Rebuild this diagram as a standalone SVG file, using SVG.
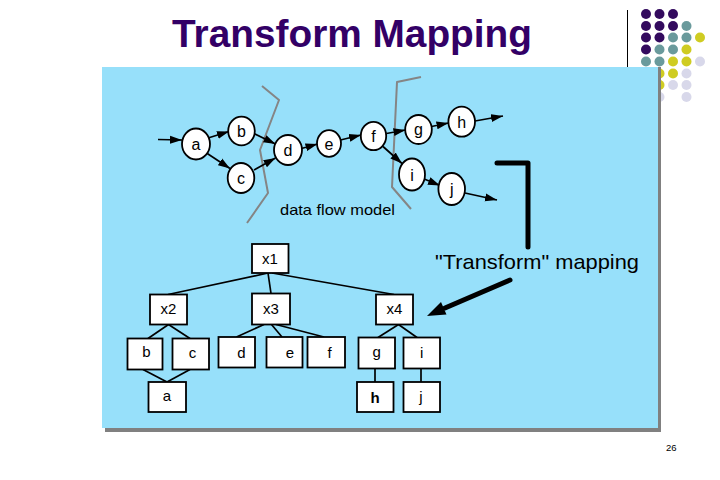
<svg xmlns="http://www.w3.org/2000/svg" width="720" height="480" viewBox="0 0 720 480">
<style>
.t{font-family:"Liberation Sans",Arial,sans-serif;fill:#000}
.nd{fill:#fff;stroke:#000;stroke-width:1.8}
.ln{stroke:#000;stroke-width:1.7;fill:none}
.ar{stroke:#000;stroke-width:1.7;fill:none;marker-end:url(#ah)}
.cut{stroke:#858585;stroke-width:2;fill:none;stroke-linejoin:round}
.dP{fill:#330a5e}.dT{fill:#6a9a9c}.dY{fill:#cfcc22}.dL{fill:#d8d8ea}
</style>
<defs>
<marker id="ah" markerUnits="userSpaceOnUse" markerWidth="13" markerHeight="9" refX="12" refY="4.5" orient="auto">
<path d="M0,0.5 L12,4.5 L0,8.5 z" fill="#000"/>
</marker>
</defs>
<rect width="720" height="480" fill="#fff"/>
<g id="dots">
<circle class="dP" cx="646" cy="14" r="5"/><circle class="dP" cx="659.5" cy="14" r="5"/><circle class="dP" cx="673" cy="14" r="5"/>
<circle class="dP" cx="646" cy="26" r="5"/><circle class="dP" cx="659.5" cy="26" r="5"/><circle class="dP" cx="673" cy="26" r="5"/><circle class="dT" cx="686.5" cy="26" r="5"/>
<circle class="dP" cx="646" cy="37.5" r="5"/><circle class="dP" cx="659.5" cy="37.5" r="5"/><circle class="dT" cx="673" cy="37.5" r="5"/><circle class="dT" cx="686.5" cy="37.5" r="5"/><circle class="dY" cx="700" cy="37.5" r="5"/>
<circle class="dP" cx="646" cy="49.5" r="5"/><circle class="dT" cx="659.5" cy="49.5" r="5"/><circle class="dT" cx="673" cy="49.5" r="5"/><circle class="dY" cx="686.5" cy="49.5" r="5"/>
<circle class="dT" cx="646" cy="61.5" r="5"/><circle class="dT" cx="659.5" cy="61.5" r="5"/><circle class="dY" cx="673" cy="61.5" r="5"/><circle class="dY" cx="686.5" cy="61.5" r="5"/><circle class="dL" cx="700" cy="61.5" r="5"/>
<circle class="dY" cx="659.5" cy="73.5" r="5"/><circle class="dY" cx="673" cy="73.5" r="5"/><circle class="dL" cx="686.5" cy="73.5" r="5"/>
<circle class="dY" cx="659.5" cy="85" r="5"/><circle class="dL" cx="673" cy="85" r="5"/><circle class="dL" cx="686.5" cy="85" r="5"/>
<circle class="dL" cx="659.5" cy="97" r="5"/><circle class="dL" cx="686.5" cy="97" r="5"/>
</g>
<line x1="627.5" y1="10" x2="627.5" y2="67" stroke="#000" stroke-width="1"/>
<text class="t" x="172" y="47" font-size="38.5" font-weight="bold" textLength="360" lengthAdjust="spacingAndGlyphs" style="fill:#330066">Transform Mapping</text>
<g id="panel">
<rect x="105" y="67" width="556" height="365" fill="#808080"/>
<rect x="102" y="67" width="556" height="361" fill="#97e0fa"/>
</g>
<g id="cuts">
<polyline class="cut" points="262,86 279,100 260,150 268,193 247,223"/>
<polyline class="cut" points="421,77 397,82 392,187 411,209"/>
</g>
<g id="connectors">
<line class="ar" x1="158" y1="139.5" x2="182" y2="140"/>
<line class="ar" x1="208" y1="138" x2="229" y2="131.5"/>
<line class="ar" x1="206.5" y1="153" x2="230" y2="168.5"/>
<line class="ar" x1="254" y1="133.5" x2="275.5" y2="144"/>
<line class="ar" x1="254" y1="170" x2="275.5" y2="158"/>
<line class="ar" x1="301.5" y1="148.5" x2="317.5" y2="144"/>
<line class="ar" x1="340.5" y1="140" x2="361" y2="135"/>
<line class="ar" x1="386.5" y1="133.5" x2="405.5" y2="130"/>
<line class="ar" x1="383" y1="146.5" x2="402" y2="163.5"/>
<line class="ar" x1="431.5" y1="126.5" x2="448.5" y2="123"/>
<line class="ar" x1="423" y1="178.5" x2="440" y2="185.5"/>
<line class="ar" x1="475" y1="121" x2="503" y2="116"/>
<line class="ar" x1="465" y1="193" x2="497" y2="200"/>
<line class="ln" x1="268" y1="273" x2="168" y2="294.5"/>
<line class="ln" x1="268" y1="273" x2="271" y2="293.5"/>
<line class="ln" x1="272" y1="273" x2="394" y2="294.5"/>
<line class="ln" x1="168.5" y1="324.5" x2="148" y2="338.5"/>
<line class="ln" x1="168.5" y1="324.5" x2="190" y2="338.5"/>
<line class="ln" x1="264" y1="324.5" x2="236.5" y2="337"/>
<line class="ln" x1="271.5" y1="324.5" x2="282" y2="337"/>
<line class="ln" x1="276" y1="324.5" x2="324" y2="337"/>
<line class="ln" x1="398.5" y1="324.5" x2="378" y2="337.5"/>
<line class="ln" x1="398.5" y1="324.5" x2="417" y2="337.5"/>
<line class="ln" x1="143" y1="369.5" x2="167" y2="382"/>
<line class="ln" x1="190" y1="369.5" x2="167" y2="382"/>
<line class="ln" x1="375" y1="368.5" x2="375" y2="382"/>
<line class="ln" x1="421" y1="368.5" x2="421" y2="382"/>
<polyline points="497,163 528,163 528,247" fill="none" stroke="#000" stroke-width="5" stroke-linecap="round" stroke-linejoin="round"/>
<line x1="510" y1="280" x2="445" y2="308" stroke="#000" stroke-width="5" stroke-linecap="round"/>
<polygon points="427,316 446.5,314.5 441,302" fill="#000"/>
</g>
<g id="n-a"><ellipse class="nd" cx="196" cy="144" rx="14" ry="15.5"/><text class="t" x="196" y="150" font-size="16" text-anchor="middle">a</text></g>
<g id="n-b"><ellipse class="nd" cx="241.5" cy="131" rx="13.3" ry="14.3"/><text class="t" x="241.5" y="137" font-size="16" text-anchor="middle">b</text></g>
<g id="n-c"><ellipse class="nd" cx="241" cy="178" rx="13.3" ry="15"/><text class="t" x="241" y="184" font-size="16" text-anchor="middle">c</text></g>
<g id="n-d"><ellipse class="nd" cx="288" cy="150" rx="14" ry="15"/><text class="t" x="288" y="156" font-size="16" text-anchor="middle">d</text></g>
<g id="n-e"><ellipse class="nd" cx="329" cy="143.5" rx="12" ry="13.3"/><text class="t" x="329" y="149.5" font-size="16" text-anchor="middle">e</text></g>
<g id="n-f"><ellipse class="nd" cx="373.5" cy="136" rx="12.7" ry="14.2"/><text class="t" x="373.5" y="142" font-size="16" text-anchor="middle">f</text></g>
<g id="n-g"><ellipse class="nd" cx="418.5" cy="129.5" rx="13.3" ry="14.5"/><text class="t" x="418.5" y="135" font-size="16" text-anchor="middle">g</text></g>
<g id="n-h"><ellipse class="nd" cx="461.7" cy="121.7" rx="13.3" ry="15"/><text class="t" x="461.7" y="127.5" font-size="16" text-anchor="middle">h</text></g>
<g id="n-i"><ellipse class="nd" cx="412" cy="174.5" rx="13" ry="16"/><text class="t" x="412" y="180.5" font-size="16" text-anchor="middle">i</text></g>
<g id="n-j"><ellipse class="nd" cx="451.7" cy="189" rx="13.3" ry="16"/><text class="t" x="451.7" y="195" font-size="16" text-anchor="middle">j</text></g>
<text class="t" x="280" y="215" font-size="15" textLength="115" lengthAdjust="spacingAndGlyphs">data flow model</text>
<text class="t" x="435" y="269" font-size="21" textLength="204" lengthAdjust="spacingAndGlyphs">"Transform" mapping</text>
<g id="t-x1"><rect class="nd" x="252" y="244" width="36.5" height="29"/><text class="t" x="270" y="263.5" font-size="15" text-anchor="middle">x1</text></g>
<g id="t-x2"><rect class="nd" x="150" y="294.5" width="37" height="30"/><text class="t" x="168.5" y="313.5" font-size="15" text-anchor="middle">x2</text></g>
<g id="t-x3"><rect class="nd" x="252" y="293.5" width="38" height="31"/><text class="t" x="271" y="313.5" font-size="15" text-anchor="middle">x3</text></g>
<g id="t-x4"><rect class="nd" x="376" y="294.5" width="37" height="30"/><text class="t" x="394.5" y="313.5" font-size="15" text-anchor="middle">x4</text></g>
<g id="t-b"><rect class="nd" x="127.5" y="338.5" width="35" height="31"/><text class="t" x="146.5" y="357" font-size="15" text-anchor="middle">b</text></g>
<g id="t-c"><rect class="nd" x="172.5" y="338.5" width="36.5" height="31"/><text class="t" x="192.5" y="358" font-size="15" text-anchor="middle">c</text></g>
<g id="t-d"><rect class="nd" x="218.5" y="337" width="36.5" height="30.5"/><text class="t" x="241.5" y="358" font-size="15" text-anchor="middle">d</text></g>
<g id="t-e"><rect class="nd" x="266.5" y="337" width="36" height="30.5"/><text class="t" x="290" y="358" font-size="15" text-anchor="middle">e</text></g>
<g id="t-f"><rect class="nd" x="307.5" y="337" width="37.5" height="30.5"/><text class="t" x="329.5" y="358" font-size="15" text-anchor="middle">f</text></g>
<g id="t-g"><rect class="nd" x="358.5" y="337.5" width="36.5" height="31"/><text class="t" x="376.7" y="357" font-size="15" text-anchor="middle">g</text></g>
<g id="t-i"><rect class="nd" x="403.5" y="337.5" width="36.5" height="31"/><text class="t" x="421.7" y="357.5" font-size="15" text-anchor="middle">i</text></g>
<g id="t-a"><rect class="nd" x="148.5" y="382" width="37.5" height="30"/><text class="t" x="167" y="401" font-size="15" text-anchor="middle">a</text></g>
<g id="t-h"><rect class="nd" x="357" y="382" width="36.5" height="30"/><text class="t" x="375" y="402.5" font-size="15" font-weight="bold" text-anchor="middle">h</text></g>
<g id="t-j"><rect class="nd" x="403.5" y="382" width="36.5" height="30"/><text class="t" x="421" y="402" font-size="15" text-anchor="middle">j</text></g>
<text class="t" x="666" y="451" font-size="9.5">26</text>
</svg>
